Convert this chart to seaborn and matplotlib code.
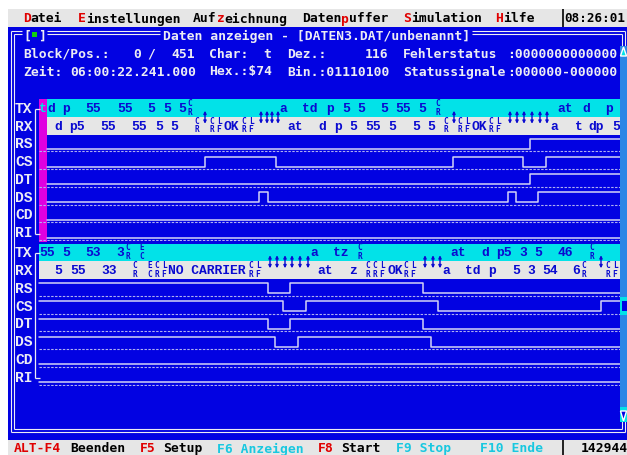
import numpy as np
import pandas as pd
import matplotlib
matplotlib.use("Agg")
import matplotlib.pyplot as plt
import seaborn as sns
from matplotlib.patches import Rectangle, Polygon

sns.set_style("white")
plt.rcParams["font.family"] = ["DejaVu Sans Mono", "DejaVu Sans"]

# ---- screen content -------------------------------------------------------
MENU = [("Datei", 23, 0), ("Einstellungen", 78, 0), ("Aufzeichnung", 193, 3),
        ("Datenpuffer", 302, 5), ("Simulation", 403, 0), ("Hilfe", 495, 0)]
CLOCK = "08:26:01"
TITLE = "Daten anzeigen - [DATEN3.DAT/unbenannt]"
HEAD1 = [(23, "Block/Pos.:"), (133, "0"), (147, "/"), (171, "451"), (209, "Char:"),
         (263, "t"), (287, "Dez.:"), (365, "116"), (403, "Fehlerstatus"),
         (507, ":0000000000000")]
HEAD2 = [(23, "Zeit:"), (70, "06:00:22.241.000"), (209, "Hex.:$74"),
         (287, "Bin.:01110100"), (403, "Statussignale"), (507, ":000000-000000")]
STATUS = [(14, "ALT-F4", "red"), (70, "Beenden", "ink"), (140, "F5", "red"),
          (163, "Setup", "ink"), (217, "F6 Anzeigen", "cyan"), (318, "F8", "red"),
          (341, "Start", "ink"), (396, "F9 Stop", "cyan"), (480, "F10 Ende", "cyan"),
          (581, "142944", "ink")]
ROW_LABELS = ["TX", "RX", "RS", "CS", "DT", "DS", "CD", "RI"]
SIGNALS = ["RS", "CS", "DT", "DS", "CD", "RI"]

# captured characters (sample position, text)
TX1_TEXT = [(47, "d"), (62, "p"), (85, "55"), (117, "55"), (147, "5"), (163, "5"),
            (178, "5"), (279, "a"), (302, "td"), (326, "p"), (342, "5"), (357, "5"),
            (380, "5"), (395, "55"), (418, "5"), (557, "at"), (582, "d"), (605, "p")]
RX1_TEXT = [(54, "d"), (69, "p5"), (100, "55"), (131, "55"), (155, "5"), (170, "5"),
            (224, "OK"), (287, "at"), (318, "d"), (334, "p"), (349, "5"), (365, "55"),
            (388, "5"), (412, "5"), (427, "5"), (472, "OK"), (550, "a"), (575, "t"),
            (588, "dp"), (612, "5")]
TX2_TEXT = [(39, "55"), (62, "5"), (85, "53"), (116, "3"), (310, "a"), (333, "tz"),
            (450, "at"), (481, "d"), (496, "p5"), (519, "3"), (534, "5"), (558, "46")]
RX2_TEXT = [(54, "5"), (70, "55"), (101, "33"), (168, "NO CARRIER"), (317, "at"),
            (349, "z"), (387, "OK"), (442, "a"), (465, "td"), (488, "p"), (512, "5"),
            (527, "3"), (542, "54"), (572, "6")]
# control characters drawn as two small stacked letters
TX1_CTRL = [(187, "CR"), (435, "CR")]
RX1_CTRL = [(194, "CR"), (209, "CR"), (216, "LF"), (241, "CR"), (248, "LF"),
            (443, "CR"), (457, "CR"), (464, "LF"), (488, "CR"), (495, "LF")]
TX2_CTRL = [(125, "CR"), (139, "EC"), (357, "CR"), (589, "CR")]
RX2_CTRL = [(132, "CR"), (147, "EC"), (154, "CR"), (161, "LF"), (248, "CR"),
            (255, "LF"), (365, "CR"), (372, "CR"), (379, "LF"), (403, "CR"),
            (410, "LF"), (581, "CR"), (605, "CR"), (612, "LF")]
# line turnaround markers
ARROWS1 = [205, 261, 267, 272, 278, 454, 510, 517, 524, 532, 540, 547]
ARROWS2 = [270, 277, 285, 292, 300, 308, 425, 433, 440, 601]

# handshake lines: start level and edge positions (samples)
START1, START2, END = 47, 39, 620
RS1, CS1, DT1 = (0, [530]), (0, [205, 276, 453, 523, 546]), (0, [530])
DS1, CD1, RI1 = (0, [259, 268, 508, 516, 538]), (0, []), (0, [])
RS2, CS2, DT2 = (1, [268, 290, 423]), (1, [283, 306, 438, 601]), (1, [268, 290, 423])
DS2, CD2, RI2 = (1, [275, 298, 431]), (0, []), (0, [])

# ---- look -----------------------------------------------------------------
W, H = 627, 456
BLUE, CYAN, GRAY, MAG = "#0202e2", "#02e2e8", "#e6e6e6", "#e000e0"
FG, SIG, DOT, INK, RED = "#ececf4", "#d4d4f6", "#b0b0f2", "#000000", "#e00000"
BAND_INK = "#0a0ad0"
COL = {"red": RED, "ink": INK, "cyan": "#18c8e0"}
MONO = "DejaVu Sans Mono"
SERIF = "Liberation Mono"
FS = 9.4
R = 17.75
P1_TOP, P2_TOP = 100.0, 244.5

fig = plt.figure(figsize=(W / 100, H / 100), dpi=100)
ax = fig.add_axes([0, 0, 1, 1])
ax.set_xlim(0, W)
ax.set_ylim(H, 0)
ax.axis("off")


def rect(x0, y0, x1, y1, color, z=1):
    ax.add_patch(Rectangle((x0, y0), x1 - x0, y1 - y0, facecolor=color,
                           edgecolor="none", zorder=z))


def put(x, y, s, color, size=FS, family=MONO, weight="bold", z=5, ha="left", **kw):
    ax.text(x, y, s, color=color, fontsize=size, family=family, weight=weight,
            ha=ha, va="center", zorder=z, **kw)


def hline(y, x0, x1, color=FG, lw=0.8, z=3):
    ax.plot([x0, x1], [y, y], color=color, lw=lw, zorder=z, solid_capstyle="butt")


def vline(x, y0, y1, color=FG, lw=0.8, z=3):
    ax.plot([x, x], [y0, y1], color=color, lw=lw, zorder=z, solid_capstyle="butt")


# backgrounds
rect(8, 10, W, 28, GRAY)
rect(8, 28, W, 441, BLUE)
rect(8, 441, W, H, GRAY)

# menu bar, hot key letter in red
cw = FS * 100 / 72 * 0.602
for word, x, hot in MENU:
    if hot:
        put(x, 19, word[:hot], INK)
    put(x + hot * cw, 19, word[hot], RED)
    put(x + (hot + 1) * cw, 19, word[hot + 1:], INK)
vline(562.5, 10, 28, INK, lw=1.2)
put(564, 19, CLOCK, INK, size=9.1)

# window frame (double line)
for off in (0, 3):
    x0, x1, y0, y1 = 10.5 + off, 624.5 - off, 32 + off, 433 - off
    vline(x0, y0, y1)
    vline(x1, y0, y1)
    hline(y1, x0, x1)
    hline(y0, x0, 22)
    hline(y0, 47, 160)
    hline(y0, 472, x1)
put(23, 36, "[", FG)
put(38, 36, "]", FG)
rect(32, 32.5, 37, 37.5, "#10d010", z=5)
put(163, 36, TITLE, FG)

# header lines
for x, s in HEAD1:
    put(x, 54, s, FG)
for x, s in HEAD2:
    put(x, 72, s, FG)


def draw_panel(top, tx_text, rx_text, tx_ctrl, rx_ctrl, arrows, lines, start, cursor):
    tx_y, rx_y = top, top + R
    rect(39, tx_y, END, rx_y, CYAN, z=2)
    rect(39, rx_y, END, rx_y + R, GRAY, z=2)
    if cursor:
        rect(39, top, 47, top + 8 * R + 1, MAG, z=2.5)
        put(39.5, tx_y + R / 2, "t", CYAN, family=SERIF)
    for i, lab in enumerate(ROW_LABELS):
        put(15, top + (i + 0.5) * R, lab, FG, size=10.5, family=SERIF)
    # bracket
    yb0, yb1 = top + R * 0.55, top + 7.6 * R
    vline(35, yb0, yb1, lw=0.9)
    hline(yb0, 35, 39.5, lw=0.9)
    hline(yb1, 35, 39.5, lw=0.9)
    for yy, txt, ctrl in ((tx_y, tx_text, tx_ctrl), (rx_y, rx_text, rx_ctrl)):
        for x, s in txt:
            put(x, yy + R / 2, s, BAND_INK, family=SERIF)
        for x, pair in ctrl:
            put(x + 3, yy + 7.8, pair[0] + "\n" + pair[1], BAND_INK, size=5.6,
                ha="center", linespacing=0.95)
    for x in arrows:
        ax.annotate("", xy=(x, rx_y - 6), xytext=(x, rx_y + 7), zorder=6,
                    arrowprops=dict(arrowstyle="<|-|>", color=BAND_INK, lw=1.0,
                                    mutation_scale=4, shrinkA=0, shrinkB=0))

    # signal lines through seaborn, on their own axes
    s_top, s_bot = top + 2 * R, top + 8 * R
    axp = fig.add_axes([0, 1 - s_bot / H, 1, (s_bot - s_top) / H])
    rows = []
    for k, (name, (lvl0, edges)) in enumerate(zip(SIGNALS, lines)):
        xs = [start] + list(edges) + [END]
        lv = [(lvl0 + i) % 2 for i in range(len(edges) + 1)]
        lv = lv + [lv[-1]]
        for x, l in zip(xs, lv):
            rows.append({"sample": x, "y": k + 1 - 3.4 / R - l * 10 / R, "signal": name})
        axp.plot([39, END], [k + 1 - 0.8 / R] * 2, color=DOT, lw=0.8,
                 ls=(0, (2.2, 1.3)))
    df = pd.DataFrame(rows)
    sns.lineplot(data=df, x="sample", y="y", units="signal", estimator=None, sort=False,
                 drawstyle="steps-post", color=SIG, lw=1.1, ax=axp, legend=False)
    axp.set_xlim(0, W)
    axp.set_ylim(6, 0)
    axp.axis("off")


draw_panel(P1_TOP, TX1_TEXT, RX1_TEXT, TX1_CTRL, RX1_CTRL, ARROWS1,
           [RS1, CS1, DT1, DS1, CD1, RI1], START1, True)
draw_panel(P2_TOP, TX2_TEXT, RX2_TEXT, TX2_CTRL, RX2_CTRL, ARROWS2,
           [RS2, CS2, DT2, DS2, CD2, RI2], START2, False)

# scroll bar on the right
ax2 = fig.add_axes([0, 0, 1, 1])
ax2.set_xlim(0, W)
ax2.set_ylim(H, 0)
ax2.axis("off")
ax2.add_patch(Rectangle((620, 47), 7, 376, facecolor="#2a86e6", edgecolor="none"))
ax2.add_patch(Polygon([[620.5, 57], [626.5, 57], [623.5, 48]], facecolor=CYAN))
ax2.add_patch(Rectangle((620, 298), 7, 18, facecolor=CYAN, edgecolor="none"))
ax2.add_patch(Rectangle((622, 302), 5, 10, facecolor=BLUE, edgecolor="none"))
ax2.add_patch(Rectangle((620, 408), 7, 15, facecolor=CYAN, edgecolor="none"))
ax2.add_patch(Polygon([[620.5, 412], [626.5, 412], [623.5, 422]], facecolor=BLUE))

# status line
for x, s, c in STATUS:
    put(x, 449, s, COL[c])
vline(562.5, 441, H, INK, lw=1.2)

fig.savefig("out.png", dpi=100, facecolor="white")
